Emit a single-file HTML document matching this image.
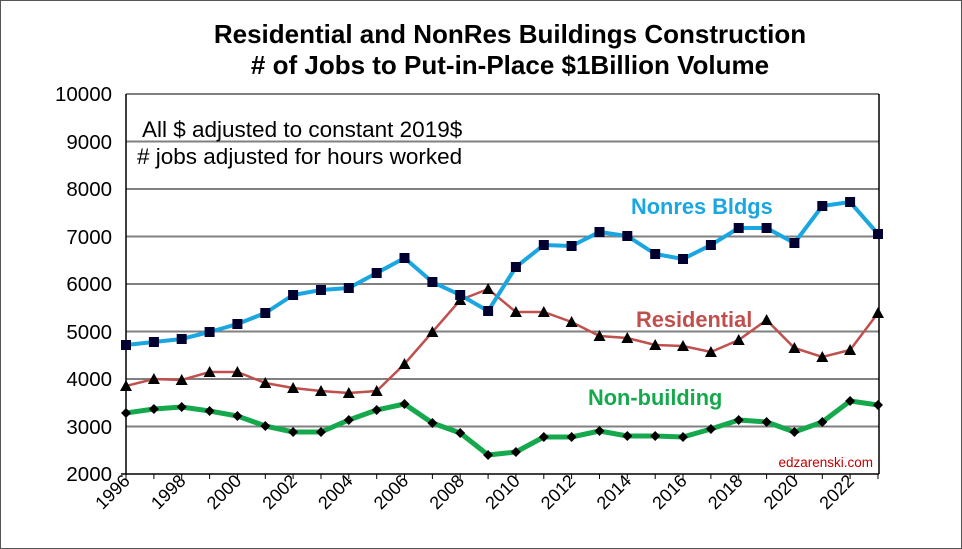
<!DOCTYPE html><html><head><style>body{margin:0;background:#fff}svg{display:block}</style></head><body>
<svg width="962" height="549" xmlns="http://www.w3.org/2000/svg" font-family="Liberation Sans, Arial, sans-serif">
<defs>
<marker id="sq" markerUnits="userSpaceOnUse" markerWidth="12" markerHeight="12" refX="6" refY="6" overflow="visible"><rect x="1" y="1" width="10" height="10" fill="#000030"/></marker>
<marker id="tri" markerUnits="userSpaceOnUse" markerWidth="14" markerHeight="14" refX="7" refY="7" overflow="visible"><polygon points="1,12 13,12 7,1" fill="#000"/></marker>
<marker id="dia" markerUnits="userSpaceOnUse" markerWidth="12" markerHeight="12" refX="6" refY="6" overflow="visible"><polygon points="1,6 6,1 11,6 6,11" fill="#000"/></marker>
</defs>
<rect x="0.5" y="0.5" width="961" height="548" fill="#fff" stroke="#555"/>
<text x="510" y="43" text-anchor="middle" font-size="26" font-weight="bold">Residential and NonRes Buildings Construction</text>
<text x="510" y="74" text-anchor="middle" font-size="26" font-weight="bold"># of Jobs to Put-in-Place $1Billion Volume</text>
<g stroke="#808080" stroke-width="2">
<line x1="126" x2="879" y1="94" y2="94"/><line x1="126" x2="879" y1="141.5" y2="141.5"/><line x1="126" x2="879" y1="189" y2="189"/><line x1="126" x2="879" y1="236.5" y2="236.5"/><line x1="126" x2="879" y1="284" y2="284"/><line x1="126" x2="879" y1="331.5" y2="331.5"/><line x1="126" x2="879" y1="379" y2="379"/><line x1="126" x2="879" y1="426.5" y2="426.5"/>
</g>
<line x1="879" y1="94" x2="879" y2="474" stroke="#000" stroke-width="1.5"/>
<line x1="126" y1="94" x2="126" y2="474" stroke="#000" stroke-width="1.5"/>
<line x1="121" y1="474" x2="879" y2="474" stroke="#000" stroke-width="1.5"/>
<g font-size="20.5" text-anchor="end">
<text x="112" y="101">10000</text><text x="112" y="149">9000</text><text x="112" y="196">8000</text><text x="112" y="244">7000</text><text x="112" y="291">6000</text><text x="112" y="339">5000</text><text x="112" y="386">4000</text><text x="112" y="434">3000</text><text x="112" y="481">2000</text>
</g>
<path stroke="#000" stroke-width="1" d="M126 474v5M153.9 474v5M181.7 474v5M209.6 474v5M237.4 474v5M265.3 474v5M293.1 474v5M321 474v5M348.8 474v5M376.7 474v5M404.5 474v5M432.4 474v5M460.2 474v5M488.1 474v5M515.9 474v5M543.8 474v5M571.6 474v5M599.5 474v5M627.3 474v5M655.2 474v5M683 474v5M710.9 474v5M738.7 474v5M766.6 474v5M794.4 474v5M822.3 474v5M850.1 474v5M878 474v5"/>
<g font-size="18" text-anchor="end">
<text transform="translate(131,482) rotate(-45)">1996</text>
<text transform="translate(186.7,482) rotate(-45)">1998</text>
<text transform="translate(242.4,482) rotate(-45)">2000</text>
<text transform="translate(298.1,482) rotate(-45)">2002</text>
<text transform="translate(353.8,482) rotate(-45)">2004</text>
<text transform="translate(409.5,482) rotate(-45)">2006</text>
<text transform="translate(465.2,482) rotate(-45)">2008</text>
<text transform="translate(520.9,482) rotate(-45)">2010</text>
<text transform="translate(576.6,482) rotate(-45)">2012</text>
<text transform="translate(632.3,482) rotate(-45)">2014</text>
<text transform="translate(688,482) rotate(-45)">2016</text>
<text transform="translate(743.7,482) rotate(-45)">2018</text>
<text transform="translate(799.4,482) rotate(-45)">2020</text>
<text transform="translate(855.1,482) rotate(-45)">2022</text>
</g>
<text x="142" y="137" font-size="22.5">All $ adjusted to constant 2019$</text>
<text x="137" y="164" font-size="22.5"># jobs adjusted for hours worked</text>
<text x="631" y="214" font-size="21.8" font-weight="bold" fill="#1aa6e0">Nonres Bldgs</text>
<text x="636" y="327" font-size="21.8" font-weight="bold" fill="#c0504d">Residential</text>
<text x="588" y="405" font-size="21.8" font-weight="bold" fill="#16a84c">Non-building</text>
<text x="873" y="467" font-size="13.5" fill="#c00000" text-anchor="end">edzarenski.com</text>
<polyline fill="none" stroke="#16a84c" stroke-width="5" stroke-linejoin="round" marker-start="url(#dia)" marker-mid="url(#dia)" marker-end="url(#dia)" points="126,413 153.9,409 181.7,407 209.6,411 237.4,416 265.3,426 293.1,432 321,432 348.8,420 376.7,410 404.5,404 432.4,423 460.2,433 488.1,455 515.9,452 543.8,437 571.6,437 599.5,431 627.3,436 655.2,436 683,437 710.9,429 738.7,420 766.6,422 794.4,432 822.3,422 850.1,401 878,405"/>
<polyline fill="none" stroke="#c0504d" stroke-width="2.5" marker-start="url(#tri)" marker-mid="url(#tri)" marker-end="url(#tri)" points="126,386 153.9,379 181.7,380 209.6,372 237.4,372 265.3,383 293.1,388 321,391 348.8,393 376.7,391 404.5,364 432.4,332 460.2,300 488.1,289 515.9,312 543.8,312 571.6,322 599.5,336 627.3,338 655.2,345 683,346 710.9,352 738.7,340 766.6,320 794.4,348 822.3,357 850.1,350 878,313"/>
<polyline fill="none" stroke="#1aa6e0" stroke-width="4" marker-start="url(#sq)" marker-mid="url(#sq)" marker-end="url(#sq)" points="126,345 153.9,342 181.7,339 209.6,332 237.4,324 265.3,313 293.1,295 321,290 348.8,288 376.7,273 404.5,258 432.4,282 460.2,295 488.1,311 515.9,267 543.8,245 571.6,246 599.5,232 627.3,236 655.2,254 683,259 710.9,245 738.7,228 766.6,228 794.4,243 822.3,206 850.1,202 878,234"/>
</svg></body></html>
